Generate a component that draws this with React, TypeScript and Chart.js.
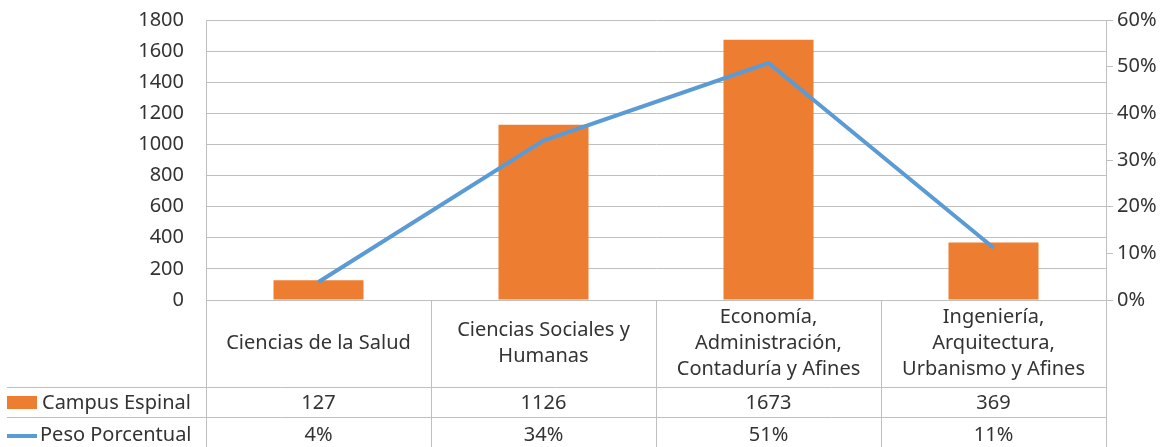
import React, { useEffect, useRef } from "react";
import { Chart, registerables } from "chart.js";

Chart.register(...registerables);

const categories: string[][] = [
  ["Ciencias de la Salud"],
  ["Ciencias Sociales y", "Humanas"],
  ["Economía,", "Administración,", "Contaduría y Afines"],
  ["Ingeniería,", "Arquitectura,", "Urbanismo y Afines"],
];
const campusEspinal = [127, 1126, 1673, 369];
const pesoPorcentual = [0.0385, 0.3417, 0.5077, 0.112];
const pesoLabels = ["4%", "34%", "51%", "11%"];
const seriesNames = ["Campus Espinal", "Peso Porcentual"];

const ORANGE = "#ED7D31";
const BLUE = "#5B9BD5";
const GRID = "#BFBFBF";
const TEXT = "#333333";
const FONT = "'Noto Sans', sans-serif";
const FS = 20;

const tablePlugin = {
  id: "dataTable",
  afterDraw(chart: any) {
    const { ctx, chartArea, scales } = chart;
    const x = scales.x;
    const left = chartArea.left;
    const right = chartArea.right;
    const top = chartArea.bottom;
    const row1 = top + 87;
    const row2 = row1 + 30;
    const bottom = chart.height;
    ctx.save();
    ctx.strokeStyle = GRID;
    ctx.lineWidth = 1;
    ctx.beginPath();
    const n = categories.length;
    const w = (right - left) / n;
    for (let i = 0; i <= n; i++) {
      const xx = Math.round(left + i * w) + 0.5;
      ctx.moveTo(xx, i === 0 || i === n ? chartArea.top : top);
      ctx.lineTo(xx, bottom);
    }
    ctx.moveTo(7, row1 + 0.5);
    ctx.lineTo(right, row1 + 0.5);
    ctx.moveTo(7, row2 + 0.5);
    ctx.lineTo(right, row2 + 0.5);
    ctx.stroke();

    ctx.fillStyle = TEXT;
    ctx.font = `${FS}px ${FONT}`;
    ctx.textAlign = "center";
    ctx.textBaseline = "middle";
    const lh = 26;
    categories.forEach((lines, i) => {
      const cx = x.getPixelForValue(i);
      const cy = (top + row1) / 2;
      const start = cy - ((lines.length - 1) * lh) / 2;
      lines.forEach((ln, j) => ctx.fillText(ln, cx, start + j * lh));
      ctx.fillText(String(campusEspinal[i]), cx, (row1 + row2) / 2 + 1);
      ctx.fillText(pesoLabels[i], cx, (row2 + bottom) / 2 + 3);
    });

    ctx.fillStyle = ORANGE;
    ctx.fillRect(7, row1 + 9, 30, 13);
    ctx.strokeStyle = BLUE;
    ctx.lineWidth = 4;
    ctx.beginPath();
    ctx.moveTo(7, (row2 + bottom) / 2 + 4);
    ctx.lineTo(37, (row2 + bottom) / 2 + 4);
    ctx.stroke();
    ctx.fillStyle = TEXT;
    ctx.textAlign = "left";
    ctx.fillText(seriesNames[0], 42, (row1 + row2) / 2 + 1);
    ctx.fillText(seriesNames[1], 40, (row2 + bottom) / 2 + 3);
    ctx.restore();
  },
};

export default function App() {
  const ref = useRef<HTMLCanvasElement>(null);
  useEffect(() => {
    document.body.style.margin = "0";
    const chart = new Chart(ref.current!, {
      type: "bar",
      data: {
        labels: categories.map((c) => c.join(" ")),
        datasets: [
          {
            type: "line",
            label: seriesNames[1],
            data: pesoPorcentual,
            yAxisID: "y1",
            borderColor: BLUE,
            backgroundColor: BLUE,
            borderWidth: 4,
            pointRadius: 0,
            tension: 0,
            order: 0,
          } as any,
          {
            type: "bar",
            label: seriesNames[0],
            data: campusEspinal,
            yAxisID: "y",
            backgroundColor: ORANGE,
            categoryPercentage: 1,
            barPercentage: 0.4,
            order: 1,
          },
        ],
      },
      options: {
        responsive: false,
        animation: false,
        layout: { padding: { top: 20, bottom: 147, left: 0, right: 0 } },
        plugins: { legend: { display: false }, tooltip: { enabled: false } },
        scales: {
          x: { display: false },
          y: {
            position: "left",
            min: 0,
            max: 1800,
            ticks: {
              stepSize: 200,
              color: TEXT,
              font: { family: FONT, size: FS },
              padding: 22,
              callback: (v: any) => String(v),
            },
            grid: { color: GRID, tickLength: 0 },
            border: { color: GRID },
            afterFit: (s: any) => {
              s.width = 206;
              s.paddingTop = 0;
              s.paddingBottom = 0;
            },
          },
          y1: {
            position: "right",
            min: 0,
            max: 0.6,
            ticks: {
              stepSize: 0.1,
              color: TEXT,
              font: { family: FONT, size: FS },
              padding: 4,
              callback: (v: any) => Math.round(Number(v) * 100) + "%",
            },
            grid: { drawOnChartArea: false, color: GRID, tickLength: 7 },
            border: { color: GRID },
            afterFit: (s: any) => {
              s.width = 68;
              s.paddingTop = 0;
              s.paddingBottom = 0;
            },
          },
        },
      },
      plugins: [tablePlugin],
    });
    return () => chart.destroy();
  }, []);
  return <canvas ref={ref} width={1174} height={447} style={{ display: "block" }} />;
}
